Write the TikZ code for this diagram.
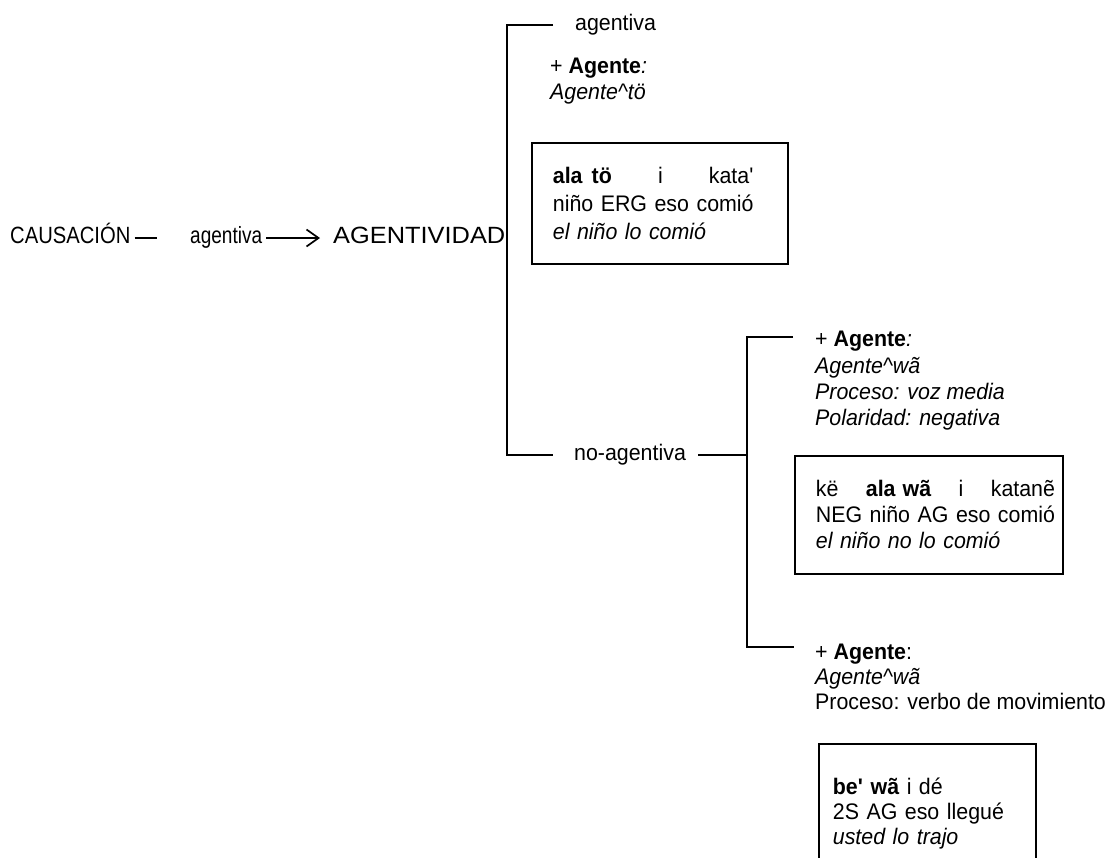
\documentclass[tikz,border=0pt]{standalone}
\usepackage{fontspec}
\setmainfont[FakeStretch=0.95]{Liberation Sans}
% widths used by the three words of the main line
\newfontfamily\causfont[FakeStretch=0.86]{Liberation Sans}
\newfontfamily\agmfont[FakeStretch=0.81]{Liberation Sans}
\newfontfamily\agvfont[FakeStretch=1.08]{Liberation Sans}
\usetikzlibrary{arrows.meta}
\newlength\jw
\begin{document}
\begin{tikzpicture}[x=1pt,y=-1pt,
  every node/.style={inner sep=0pt, anchor=west, font=\fontsize{22.5}{26}\selectfont},
  word/.style={text height=16pt, text depth=4.7pt},
  headword/.style={text height=16.8pt, text depth=4.9pt},
  stack/.style={align=left},
  ex/.style={draw, line width=1.8pt, anchor=north west, inner xsep=21pt, inner ysep=0pt, align=left},
  rule/.style={line width=1.7pt},
]
\clip (0,0) rectangle (1113,857);

% main line
\node[headword, font=\causfont\fontsize{23.5}{26}\selectfont] (caus) at (10,238) {CAUSACIÓN};
\node[headword, font=\agmfont\fontsize{23.5}{26}\selectfont] (agm) at (190,238) {agentiva};
\node[headword, font=\agvfont\fontsize{23.5}{26}\selectfont] (agv) at (333,238) {AGENTIVIDAD};
\draw[rule] ([xshift=4pt]caus.east) -- ([xshift=-33pt]agm.west);
\draw[rule, -{Straight Barb[length=12pt,width=17pt]}] ([xshift=4pt]agm.east) -- ([xshift=-13pt]agv.west);

% first choice: agentiva / no-agentiva
\node[word] (agt) at (575,25) {agentiva};
\node[stack] (fa) at (550,81) {+ \textbf{Agente}\textit{:}\\\textit{Agente\textasciicircum tö}};
\node[ex, text width=214pt, minimum height=121pt, font=\fontsize{22.5}{28}\selectfont] (ex1) at (531,142)
  {\settowidth\jw{niño ERG eso comió}\makebox[\jw][s]{\textbf{ala}\hspace{9pt}\textbf{tö}\hfill i\hfill kata\textquotesingle}\\
   \mbox{niño ERG eso comió}\\
   \mbox{\textit{el niño lo comió}}};
\node[word] (noag) at (574,455) {no-agentiva};

\coordinate (sp1) at (507,238);
\draw[rule] ([xshift=-22pt]agt.west) -| (sp1) |- ([xshift=-21pt]noag.west);

% second choice
\coordinate (sp2) at (747,455);
\coordinate (b2t) at (793,337);
\coordinate (b2b) at (794,647);
\draw[rule] ([xshift=12pt]noag.east) -- (sp2);
\draw[rule] (b2t) -| (sp2) |- (b2b);

\node[stack, font=\fontsize{22.5}{26.3}\selectfont] (fb) at (815,381) {+ \textbf{Agente}\textit{:}\\\textit{Agente\textasciicircum wã}\\\textit{Proceso: voz media}\\\textit{Polaridad: negativa}};
\node[ex, text width=226pt, minimum height=118pt] (ex2) at (794,455)
  {\settowidth\jw{NEG niño AG eso comió}\makebox[\jw][s]{kë\hfill\textbf{ala}\hspace{7pt}\textbf{wã}\hfill i\hfill katanẽ}\\
   \mbox{NEG niño AG eso comió}\\
   \mbox{\textit{el niño no lo comió}}};

\node[stack, font=\fontsize{22.5}{25}\selectfont] (fc) at (815,677) {+ \textbf{Agente}:\\\textit{Agente\textasciicircum wã}\\Proceso: verbo de movimiento};
\node[ex, inner xsep=14pt, text width=189pt, minimum height=140pt, font=\fontsize{22.5}{25}\selectfont] (ex3) at (818,743)
  {\textbf{be\textquotesingle{} wã} i dé\\
   2S AG eso llegué\\
   \textit{usted lo trajo}};
\end{tikzpicture}
\end{document}
